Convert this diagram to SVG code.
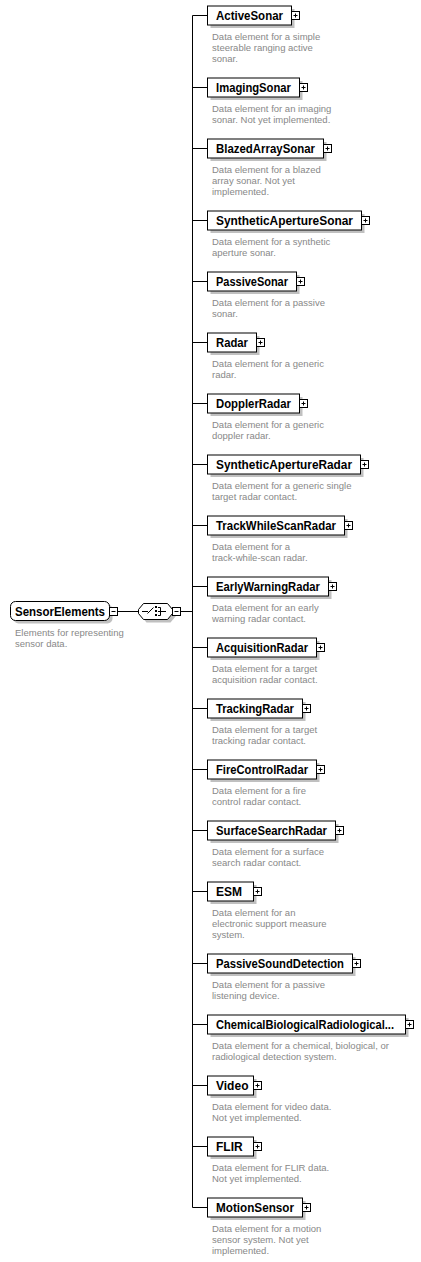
<svg xmlns="http://www.w3.org/2000/svg" width="421" height="1262" viewBox="0 0 421 1262">
<style>
.bg{fill:#ffffff}
.sh{fill:#c0c0c0;stroke:none}
.box{fill:#ffffff;stroke:#000000;stroke-width:1}
.nm{font-family:"Liberation Sans",Arial,sans-serif;font-weight:bold;font-size:12px;fill:#000000}
.ds{font-family:"Liberation Sans",Arial,sans-serif;font-size:9.5px;fill:#888888}
.ic{fill:#ffffff;stroke:#000000;stroke-width:1}
.ln{stroke:#000000;stroke-width:1;fill:none}
</style>
<defs>
<g id="plus"><rect class="ic" x="0.5" y="-4" width="8" height="8"/><path class="ln" d="M2.5 0H6.5M4.5 -2V2"/></g>
<g id="minus"><rect class="ic" x="0.5" y="-4" width="8" height="8"/><path class="ln" d="M2.5 0H6.5"/></g>
</defs>
<rect class="bg" x="0" y="0" width="421" height="1262"/>

<g id="connectors">
<path class="ln" d="M117.5 611.5H138.5M180.5 611.5H192.5M192.5 15.5V1207.5"/>
<path class="ln" d="M192.5 15.5H207.5M192.5 87.5H207.5M192.5 148.5H207.5M192.5 220.5H207.5M192.5 281.5H207.5M192.5 342.5H207.5M192.5 403.5H207.5M192.5 464.5H207.5M192.5 525.5H207.5M192.5 586.5H207.5M192.5 647.5H207.5M192.5 708.5H207.5M192.5 769.5H207.5M192.5 830.5H207.5M192.5 891.5H207.5M192.5 963.5H207.5M192.5 1024.5H207.5M192.5 1085.5H207.5M192.5 1146.5H207.5M192.5 1207.5H207.5"/>
</g>

<g id="SensorElements">
<rect class="sh" x="13.5" y="604.5" width="99" height="19" rx="5"/>
<rect class="box" x="10.5" y="601.5" width="99" height="19" rx="5"/>
<text class="nm" x="15" y="615.5" textLength="90" lengthAdjust="spacingAndGlyphs">SensorElements</text>
<use href="#minus" x="109" y="611.5"/>
<text class="ds" x="15" y="636">Elements for representing</text>
<text class="ds" x="15" y="647">sensor data.</text>
</g>

<g id="sequence">
<path class="sh" d="M146.5 606.5H170.5L175.5 612.5V616.5L170.5 622.5H146.5L141.5 616.5V612.5Z"/>
<path class="box" d="M143.5 603.5H167.5L172.5 609.5V613.5L167.5 619.5H143.5L138.5 613.5V609.5Z"/>
<path class="ln" d="M142 611.5H148M147.5 613.5L153.5 607.5M160.5 607.5V615.5M158 607.5H160.5M158 611.5H166M158 615.5H160.5"/>
<rect x="155" y="606" width="2" height="2" fill="#000"/>
<rect x="155" y="610" width="2" height="2" fill="#000"/>
<rect x="155" y="614" width="2" height="2" fill="#000"/>
<use href="#minus" x="172" y="611.5"/>
</g>

<g id="ActiveSonar">
<rect class="sh" x="210.5" y="9" width="84" height="19"/>
<rect class="box" x="207.5" y="6" width="84" height="19"/>
<text class="nm" x="216" y="19.5" textLength="67" lengthAdjust="spacingAndGlyphs">ActiveSonar</text>
<use href="#plus" x="291" y="15.5"/>
<text class="ds" x="212" y="40">Data element for a simple</text>
<text class="ds" x="212" y="51">steerable ranging active</text>
<text class="ds" x="212" y="62">sonar.</text>
</g>

<g id="ImagingSonar">
<rect class="sh" x="210.5" y="81" width="92" height="19"/>
<rect class="box" x="207.5" y="78" width="92" height="19"/>
<text class="nm" x="216" y="91.5" textLength="75" lengthAdjust="spacingAndGlyphs">ImagingSonar</text>
<use href="#plus" x="299" y="87.5"/>
<text class="ds" x="212" y="112">Data element for an imaging</text>
<text class="ds" x="212" y="123">sonar. Not yet implemented.</text>
</g>

<g id="BlazedArraySonar">
<rect class="sh" x="210.5" y="142" width="116" height="19"/>
<rect class="box" x="207.5" y="139" width="116" height="19"/>
<text class="nm" x="216" y="152.5" textLength="99" lengthAdjust="spacingAndGlyphs">BlazedArraySonar</text>
<use href="#plus" x="323" y="148.5"/>
<text class="ds" x="212" y="173">Data element for a blazed</text>
<text class="ds" x="212" y="184">array sonar. Not yet</text>
<text class="ds" x="212" y="195">implemented.</text>
</g>

<g id="SyntheticApertureSonar">
<rect class="sh" x="210.5" y="214" width="154" height="19"/>
<rect class="box" x="207.5" y="211" width="154" height="19"/>
<text class="nm" x="216" y="224.5" textLength="137" lengthAdjust="spacingAndGlyphs">SyntheticApertureSonar</text>
<use href="#plus" x="361" y="220.5"/>
<text class="ds" x="212" y="245">Data element for a synthetic</text>
<text class="ds" x="212" y="256">aperture sonar.</text>
</g>

<g id="PassiveSonar">
<rect class="sh" x="210.5" y="275" width="89" height="19"/>
<rect class="box" x="207.5" y="272" width="89" height="19"/>
<text class="nm" x="216" y="285.5" textLength="72" lengthAdjust="spacingAndGlyphs">PassiveSonar</text>
<use href="#plus" x="296" y="281.5"/>
<text class="ds" x="212" y="306">Data element for a passive</text>
<text class="ds" x="212" y="317">sonar.</text>
</g>

<g id="Radar">
<rect class="sh" x="210.5" y="336" width="49" height="19"/>
<rect class="box" x="207.5" y="333" width="49" height="19"/>
<text class="nm" x="216" y="346.5" textLength="32" lengthAdjust="spacingAndGlyphs">Radar</text>
<use href="#plus" x="256" y="342.5"/>
<text class="ds" x="212" y="367">Data element for a generic</text>
<text class="ds" x="212" y="378">radar.</text>
</g>

<g id="DopplerRadar">
<rect class="sh" x="210.5" y="397" width="92" height="19"/>
<rect class="box" x="207.5" y="394" width="92" height="19"/>
<text class="nm" x="216" y="407.5" textLength="75" lengthAdjust="spacingAndGlyphs">DopplerRadar</text>
<use href="#plus" x="299" y="403.5"/>
<text class="ds" x="212" y="428">Data element for a generic</text>
<text class="ds" x="212" y="439">doppler radar.</text>
</g>

<g id="SyntheticApertureRadar">
<rect class="sh" x="210.5" y="458" width="153" height="19"/>
<rect class="box" x="207.5" y="455" width="153" height="19"/>
<text class="nm" x="216" y="468.5" textLength="136" lengthAdjust="spacingAndGlyphs">SyntheticApertureRadar</text>
<use href="#plus" x="360" y="464.5"/>
<text class="ds" x="212" y="489">Data element for a generic single</text>
<text class="ds" x="212" y="500">target radar contact.</text>
</g>

<g id="TrackWhileScanRadar">
<rect class="sh" x="210.5" y="519" width="137" height="19"/>
<rect class="box" x="207.5" y="516" width="137" height="19"/>
<text class="nm" x="216" y="529.5" textLength="120" lengthAdjust="spacingAndGlyphs">TrackWhileScanRadar</text>
<use href="#plus" x="344" y="525.5"/>
<text class="ds" x="212" y="550">Data element for a</text>
<text class="ds" x="212" y="561">track-while-scan radar.</text>
</g>

<g id="EarlyWarningRadar">
<rect class="sh" x="210.5" y="580" width="121" height="19"/>
<rect class="box" x="207.5" y="577" width="121" height="19"/>
<text class="nm" x="216" y="590.5" textLength="104" lengthAdjust="spacingAndGlyphs">EarlyWarningRadar</text>
<use href="#plus" x="328" y="586.5"/>
<text class="ds" x="212" y="611">Data element for an early</text>
<text class="ds" x="212" y="622">warning radar contact.</text>
</g>

<g id="AcquisitionRadar">
<rect class="sh" x="210.5" y="641" width="109" height="19"/>
<rect class="box" x="207.5" y="638" width="109" height="19"/>
<text class="nm" x="216" y="651.5" textLength="92" lengthAdjust="spacingAndGlyphs">AcquisitionRadar</text>
<use href="#plus" x="316" y="647.5"/>
<text class="ds" x="212" y="672">Data element for a target</text>
<text class="ds" x="212" y="683">acquisition radar contact.</text>
</g>

<g id="TrackingRadar">
<rect class="sh" x="210.5" y="702" width="95" height="19"/>
<rect class="box" x="207.5" y="699" width="95" height="19"/>
<text class="nm" x="216" y="712.5" textLength="78" lengthAdjust="spacingAndGlyphs">TrackingRadar</text>
<use href="#plus" x="302" y="708.5"/>
<text class="ds" x="212" y="733">Data element for a target</text>
<text class="ds" x="212" y="744">tracking radar contact.</text>
</g>

<g id="FireControlRadar">
<rect class="sh" x="210.5" y="763" width="109" height="19"/>
<rect class="box" x="207.5" y="760" width="109" height="19"/>
<text class="nm" x="216" y="773.5" textLength="92" lengthAdjust="spacingAndGlyphs">FireControlRadar</text>
<use href="#plus" x="316" y="769.5"/>
<text class="ds" x="212" y="794">Data element for a fire</text>
<text class="ds" x="212" y="805">control radar contact.</text>
</g>

<g id="SurfaceSearchRadar">
<rect class="sh" x="210.5" y="824" width="128" height="19"/>
<rect class="box" x="207.5" y="821" width="128" height="19"/>
<text class="nm" x="216" y="834.5" textLength="111" lengthAdjust="spacingAndGlyphs">SurfaceSearchRadar</text>
<use href="#plus" x="335" y="830.5"/>
<text class="ds" x="212" y="855">Data element for a surface</text>
<text class="ds" x="212" y="866">search radar contact.</text>
</g>

<g id="ESM">
<rect class="sh" x="210.5" y="885" width="46" height="19"/>
<rect class="box" x="207.5" y="882" width="46" height="19"/>
<text class="nm" x="216" y="895.5">ESM</text>
<use href="#plus" x="253" y="891.5"/>
<text class="ds" x="212" y="916">Data element for an</text>
<text class="ds" x="212" y="927">electronic support measure</text>
<text class="ds" x="212" y="938">system.</text>
</g>

<g id="PassiveSoundDetection">
<rect class="sh" x="210.5" y="957" width="145" height="19"/>
<rect class="box" x="207.5" y="954" width="145" height="19"/>
<text class="nm" x="216" y="967.5" textLength="128" lengthAdjust="spacingAndGlyphs">PassiveSoundDetection</text>
<use href="#plus" x="352" y="963.5"/>
<text class="ds" x="212" y="988">Data element for a passive</text>
<text class="ds" x="212" y="999">listening device.</text>
</g>

<g id="ChemicalBiologicalRadiological">
<rect class="sh" x="210.5" y="1018" width="198" height="19"/>
<rect class="box" x="207.5" y="1015" width="198" height="19"/>
<text class="nm" x="216" y="1028.5" textLength="178" lengthAdjust="spacingAndGlyphs">ChemicalBiologicalRadiological...</text>
<use href="#plus" x="405" y="1024.5"/>
<text class="ds" x="212" y="1049">Data element for a chemical, biological, or</text>
<text class="ds" x="212" y="1060">radiological detection system.</text>
</g>

<g id="Video">
<rect class="sh" x="210.5" y="1079" width="46" height="19"/>
<rect class="box" x="207.5" y="1076" width="46" height="19"/>
<text class="nm" x="216" y="1089.5">Video</text>
<use href="#plus" x="253" y="1085.5"/>
<text class="ds" x="212" y="1110">Data element for video data.</text>
<text class="ds" x="212" y="1121">Not yet implemented.</text>
</g>

<g id="FLIR">
<rect class="sh" x="210.5" y="1140" width="46" height="19"/>
<rect class="box" x="207.5" y="1137" width="46" height="19"/>
<text class="nm" x="216" y="1150.5">FLIR</text>
<use href="#plus" x="253" y="1146.5"/>
<text class="ds" x="212" y="1171">Data element for FLIR data.</text>
<text class="ds" x="212" y="1182">Not yet implemented.</text>
</g>

<g id="MotionSensor">
<rect class="sh" x="210.5" y="1201" width="95" height="19"/>
<rect class="box" x="207.5" y="1198" width="95" height="19"/>
<text class="nm" x="216" y="1211.5" textLength="78" lengthAdjust="spacingAndGlyphs">MotionSensor</text>
<use href="#plus" x="302" y="1207.5"/>
<text class="ds" x="212" y="1232">Data element for a motion</text>
<text class="ds" x="212" y="1243">sensor system. Not yet</text>
<text class="ds" x="212" y="1254">implemented.</text>
</g>
</svg>
